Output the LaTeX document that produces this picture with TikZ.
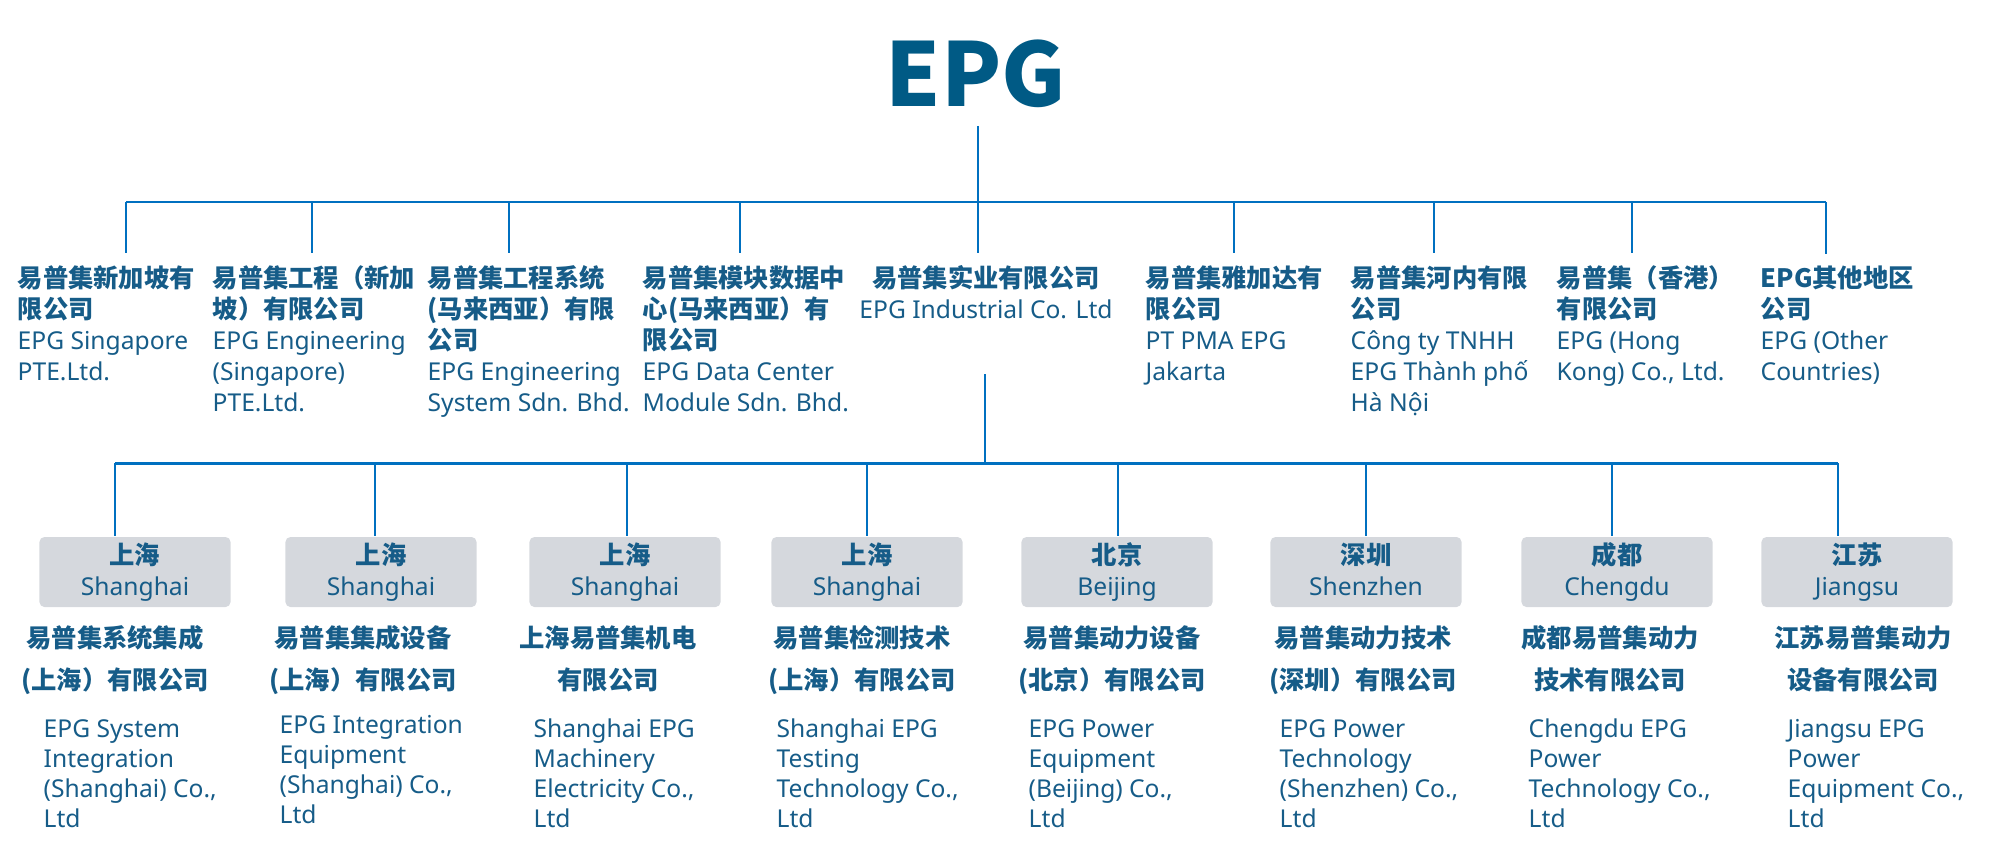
\documentclass[tikz,border=0pt]{standalone}
\usepackage{fontspec}
\setmainfont{Noto Sans}
\newfontfamily\cjk{Noto Sans CJK SC}
\definecolor{epgblue}{HTML}{005A85}
\definecolor{txtblue}{HTML}{165C88}
\definecolor{linkblue}{HTML}{0070C0}
\definecolor{boxgrey}{HTML}{D5D8DD}
\newcommand{\zh}[1]{{\cjk\bfseries\fontsize{7.2}{8.8}\selectfont #1}}
\tikzset{
  firm/.style={inner sep=0pt, outer ysep=0.12cm, align=left, anchor=base west,
    text=txtblue, font=\fontsize{7}{8.8}\selectfont},
  cityhead/.style={rectangle, rounded corners=0.05cm, fill=boxgrey, inner sep=0pt,
    minimum width=1.91cm, minimum height=0.7cm, align=center, text=txtblue,
    font=\fontsize{7}{8.8}\selectfont},
  zhname/.style={inner sep=0pt, align=center, anchor=base, text=txtblue,
    font=\fontsize{7}{11.7}\selectfont},
  enname/.style={inner sep=0pt, align=left, anchor=base west, text=txtblue,
    font=\fontsize{7}{8.5}\selectfont},
  bus/.style={draw=linkblue, line width=0.6pt},
  drop/.style={draw=linkblue, line width=0.55pt}
}
\begin{document}
\begin{tikzpicture}[x=0.01cm, y=-0.01cm]
  \useasboundingbox (0,0) rectangle (1991,850);

  % head
  \node[text=epgblue, inner sep=0pt, outer sep=0.18cm, font=\cjk\fontsize{25}{25}\selectfont\bfseries] (epg) at (976,74) {EPG};

  % first level (base = last line)
  \node[firm] (c1) at (17,380)  {\zh{易普集新加坡有}\\\zh{限公司}\\EPG Singapore\\PTE.Ltd.};
  \node[firm] (c2) at (212,411) {\zh{易普集工程（新加}\\\zh{坡）有限公司}\\EPG Engineering\\(Singapore)\\PTE.Ltd.};
  \node[firm] (c3) at (427,411) {\zh{易普集工程系统}\\\zh{(马来西亚）有限}\\\zh{公司}\\EPG Engineering\\System Sdn. Bhd.};
  \node[firm] (c4) at (642,411) {\zh{易普集模块数据中}\\\zh{心(马来西亚）有}\\\zh{限公司}\\EPG Data Center\\Module Sdn. Bhd.};
  \node[firm, align=center, anchor=base] (c5) at (986,318) {\zh{易普集实业有限公司}\\EPG Industrial Co. Ltd};
  \node[firm] (c6) at (1145,380) {\zh{易普集雅加达有}\\\zh{限公司}\\PT PMA EPG\\Jakarta};
  \node[firm] (c7) at (1350,411) {\zh{易普集河内有限}\\\zh{公司}\\Công ty TNHH\\EPG Thành phố\\Hà Nội};
  \node[firm] (c8) at (1556,380) {\zh{易普集（香港）}\\\zh{有限公司}\\EPG (Hong\\Kong) Co., Ltd.};
  \node[firm] (c9) at (1760,380) {\zh{EPG其他地区}\\\zh{公司}\\EPG (Other\\Countries)};

  \coordinate (d1) at (126,202);
  \coordinate (d2) at (312,202);
  \coordinate (d3) at (509,202);
  \coordinate (d4) at (740,202);
  \coordinate (d5) at (978,202);
  \coordinate (d6) at (1234,202);
  \coordinate (d7) at (1434,202);
  \coordinate (d8) at (1632,202);
  \coordinate (d9) at (1826,202);

  \draw[drop] (epg.south -| d5) -- (d5);
  \draw[bus] (d1) -- (d9);
  \draw[drop] (d1) -- (d1 |- c1.north);
  \draw[drop] (d2) -- (d2 |- c2.north);
  \draw[drop] (d3) -- (d3 |- c3.north);
  \draw[drop] (d4) -- (d4 |- c4.north);
  \draw[drop] (d5) -- (d5 |- c5.north);
  \draw[drop] (d6) -- (d6 |- c6.north);
  \draw[drop] (d7) -- (d7 |- c7.north);
  \draw[drop] (d8) -- (d8 |- c8.north);
  \draw[drop] (d9) -- (d9 |- c9.north);

  % second level (under EPG Industrial)
  \node[cityhead] (b1) at (135,572)  {\zh{上海}\\Shanghai};
  \node[cityhead] (b2) at (381,572)  {\zh{上海}\\Shanghai};
  \node[cityhead] (b3) at (625,572)  {\zh{上海}\\Shanghai};
  \node[cityhead] (b4) at (867,572)  {\zh{上海}\\Shanghai};
  \node[cityhead] (b5) at (1117,572) {\zh{北京}\\Beijing};
  \node[cityhead] (b6) at (1366,572) {\zh{深圳}\\Shenzhen\vphantom{g}};
  \node[cityhead] (b7) at (1617,572) {\zh{成都}\\Chengdu};
  \node[cityhead] (b8) at (1857,572) {\zh{江苏}\\Jiangsu};

  \coordinate (sub) at (985,374);
  \coordinate (hub) at (985,463);
  \coordinate (s1) at (115,463);
  \coordinate (s2) at (375,463);
  \coordinate (s3) at (627,463);
  \coordinate (s4) at (867,463);
  \coordinate (s5) at (1118,463);
  \coordinate (s6) at (1366,463);
  \coordinate (s7) at (1612,463);
  \coordinate (s8) at (1838,463);

  \draw[drop] (sub) -- (hub);
  \draw[bus, line width=0.85pt] (s1) -- (s8);
  \draw[drop] (s1) -- (s1 |- b1.north);
  \draw[drop] (s2) -- (s2 |- b2.north);
  \draw[drop] (s3) -- (s3 |- b3.north);
  \draw[drop] (s4) -- (s4 |- b4.north);
  \draw[drop] (s5) -- (s5 |- b5.north);
  \draw[drop] (s6) -- (s6 |- b6.north);
  \draw[drop] (s7) -- (s7 |- b7.north);
  \draw[drop] (s8) -- (s8 |- b8.north);

  \node[zhname] (z1) at (115,689)  {\zh{易普集系统集成}\\\zh{(上海）有限公司}};
  \node[zhname] (z2) at (363,689)  {\zh{易普集集成设备}\\\zh{(上海）有限公司}};
  \node[zhname] (z3) at (608,689)  {\zh{上海易普集机电}\\\zh{有限公司}};
  \node[zhname] (z4) at (862,689)  {\zh{易普集检测技术}\\\zh{(上海）有限公司}};
  \node[zhname] (z5) at (1112,689) {\zh{易普集动力设备}\\\zh{(北京）有限公司}};
  \node[zhname] (z6) at (1363,689) {\zh{易普集动力技术}\\\zh{(深圳）有限公司}};
  \node[zhname] (z7) at (1610,689) {\zh{成都易普集动力}\\\zh{技术有限公司}};
  \node[zhname] (z8) at (1863,689) {\zh{江苏易普集动力}\\\zh{设备有限公司}};

  \node[enname] (e1) at (43,827)   {EPG System\\Integration\\(Shanghai) Co.,\\Ltd};
  \node[enname] (e2) at (279,823)  {EPG Integration\\Equipment\\(Shanghai) Co.,\\Ltd};
  \node[enname] (e3) at (533,827)  {Shanghai EPG\\Machinery\\Electricity Co.,\\Ltd};
  \node[enname] (e4) at (776,827)  {Shanghai EPG\\Testing\\Technology Co.,\\Ltd};
  \node[enname] (e5) at (1028,827) {EPG Power\\Equipment\\(Beijing) Co.,\\Ltd};
  \node[enname] (e6) at (1279,827) {EPG Power\\Technology\\(Shenzhen) Co.,\\Ltd};
  \node[enname] (e7) at (1528,827) {Chengdu EPG\\Power\\Technology Co.,\\Ltd};
  \node[enname] (e8) at (1787,827) {Jiangsu EPG\\Power\\Equipment Co.,\\Ltd};
\end{tikzpicture}
\end{document}
